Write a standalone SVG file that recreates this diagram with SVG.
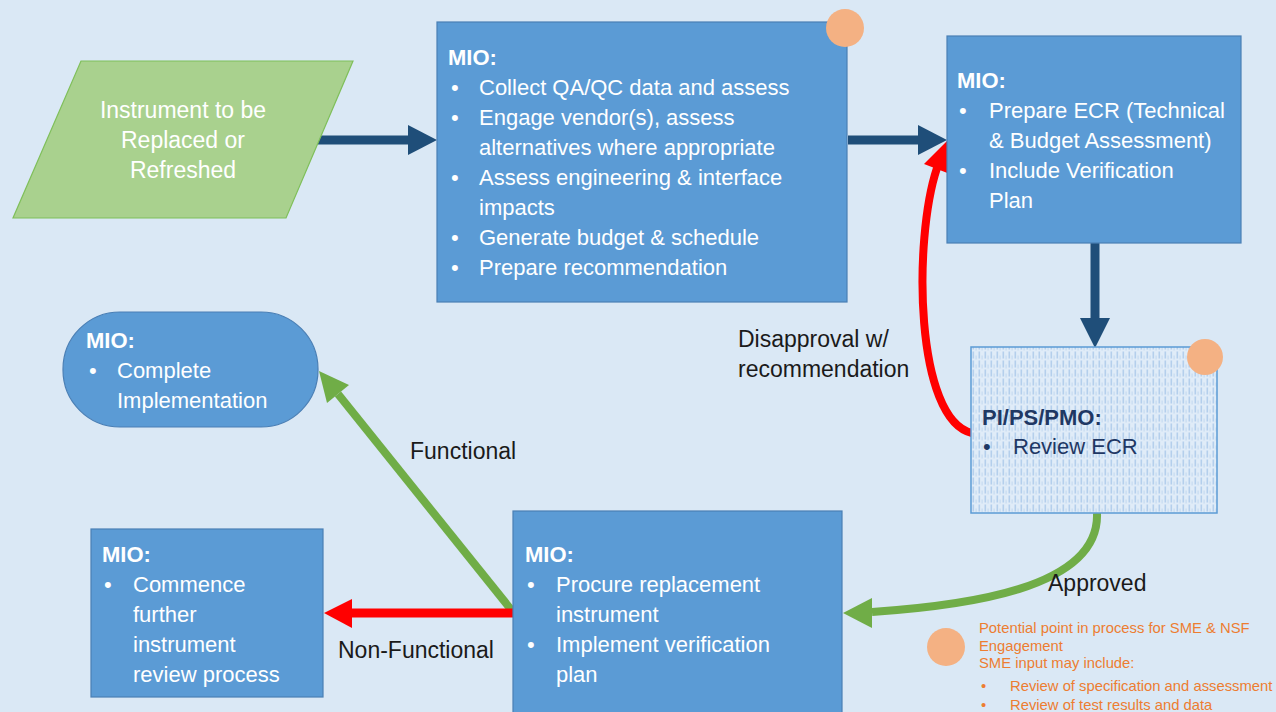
<svg xmlns="http://www.w3.org/2000/svg" width="1276" height="712" viewBox="0 0 1276 712">
  <style>
    .box { fill: #5B9BD5; stroke: #4A7FB5; stroke-width: 1.2; }
    .t { font-family: "Liberation Sans", Arial, sans-serif; font-size: 22px; fill: #FFFFFF; }
    .in { font-size: 23px; }
    .b { font-weight: bold; }
    .lbl { font-family: "Liberation Sans", Arial, sans-serif; font-size: 23px; fill: #1A1A1A; }
    .navy { fill: #1F3864; }
    .note { font-family: "Liberation Sans", Arial, sans-serif; font-size: 14.8px; fill: #ED7D31; }
    .dot { fill: #F4B183; }
  </style>
  <defs>
    <pattern id="weave" width="6" height="9" patternUnits="userSpaceOnUse">
      <rect width="6" height="9" fill="#E0ECF8"/>
      <rect x="0.5" y="0.5" width="1.6" height="7" fill="#B4CFEC"/>
      <rect x="3.5" y="4.5" width="1.2" height="4" fill="#C6DBF1"/>
    </pattern>
  </defs>

  <rect width="1276" height="712" fill="#DAE8F5"/>

  <!-- connectors -->
  <g id="connectors">
    <!-- input to assessment -->
    <line x1="318" y1="140" x2="410" y2="140" stroke="#1F4E79" stroke-width="9"/>
    <polygon points="437,140 408,125 408,155" fill="#1F4E79"/>
    <!-- assessment to ECR -->
    <line x1="848" y1="140" x2="920" y2="140" stroke="#1F4E79" stroke-width="9"/>
    <polygon points="947,140 918,125 918,155" fill="#1F4E79"/>
    <!-- ECR to review -->
    <line x1="1095" y1="243" x2="1095" y2="320" stroke="#1F4E79" stroke-width="9"/>
    <polygon points="1095,348 1080,318 1110,318" fill="#1F4E79"/>
    <!-- disapproval loop -->
    <path d="M 972 433 C 915 420, 913 240, 937 168" fill="none" stroke="#FF0000" stroke-width="8"/>
    <polygon points="947,141 950,174 924,164" fill="#FF0000"/>
    <!-- approved -->
    <path d="M 1097 513 C 1100 590, 960 606, 872 612" fill="none" stroke="#70AD47" stroke-width="8"/>
    <polygon points="843,613 872,598 872,628" fill="#70AD47"/>
    <!-- functional -->
    <line x1="513" y1="612" x2="338" y2="394" stroke="#70AD47" stroke-width="8"/>
    <polygon points="319,371 349,385 327,403" fill="#70AD47"/>
    <!-- non-functional -->
    <line x1="513" y1="613" x2="350" y2="613" stroke="#FF0000" stroke-width="9"/>
    <polygon points="324,613 352,599 352,628" fill="#FF0000"/>
  </g>

  <!-- connector labels -->
  <g id="labels">
    <text class="lbl" x="738" y="347">Disapproval w/</text>
    <text class="lbl" x="738" y="377">recommendation</text>
    <text class="lbl" x="410" y="459">Functional</text>
    <text class="lbl" x="338" y="658">Non-Functional</text>
    <text class="lbl" x="1048" y="591">Approved</text>
  </g>

  <g id="node-input">
    <polygon points="81,61 353,61 286,218 13,218" fill="#A9D18E" stroke="#7FBF5A" stroke-width="1.2"/>
    <text class="t in" text-anchor="middle" x="183" y="118">Instrument to be</text>
    <text class="t in" text-anchor="middle" x="183" y="148">Replaced or</text>
    <text class="t in" text-anchor="middle" x="183" y="178">Refreshed</text>
  </g>

  <g id="node-assess">
    <rect class="box" x="437" y="22" width="410" height="280"/>
    <circle class="dot" cx="845" cy="28" r="19"/>
    <text class="t b" x="448" y="65">MIO:</text>
    <text class="t" x="451" y="95">•</text><text class="t" x="479" y="95">Collect QA/QC data and assess</text>
    <text class="t" x="451" y="125">•</text><text class="t" x="479" y="125">Engage vendor(s), assess</text>
    <text class="t" x="479" y="155">alternatives where appropriate</text>
    <text class="t" x="451" y="185">•</text><text class="t" x="479" y="185">Assess engineering &amp; interface</text>
    <text class="t" x="479" y="215">impacts</text>
    <text class="t" x="451" y="245">•</text><text class="t" x="479" y="245">Generate budget &amp; schedule</text>
    <text class="t" x="451" y="275">•</text><text class="t" x="479" y="275">Prepare recommendation</text>
  </g>

  <g id="node-ecr">
    <rect class="box" x="947" y="36" width="294" height="207"/>
    <text class="t b" x="957" y="88">MIO:</text>
    <text class="t" x="959" y="118">•</text><text class="t" x="989" y="118">Prepare ECR (Technical</text>
    <text class="t" x="989" y="148">&amp; Budget Assessment)</text>
    <text class="t" x="959" y="178">•</text><text class="t" x="989" y="178">Include Verification</text>
    <text class="t" x="989" y="208">Plan</text>
  </g>

  <g id="node-review">
    <rect x="971" y="347" width="246" height="166" fill="url(#weave)" stroke="#5B9BD5" stroke-width="1.5"/>
    <circle class="dot" cx="1205" cy="357" r="18"/>
    <text class="t b navy" x="982" y="425">PI/PS/PMO:</text>
    <text class="t navy" x="983" y="454">•</text><text class="t navy" x="1013" y="454">Review ECR</text>
  </g>

  <g id="node-complete">
    <rect class="box" x="63" y="312" width="255" height="115" rx="57" ry="57"/>
    <text class="t b" x="86" y="348">MIO:</text>
    <text class="t" x="89" y="378">•</text><text class="t" x="117" y="378">Complete</text>
    <text class="t" x="117" y="408">Implementation</text>
  </g>

  <g id="node-further">
    <rect class="box" x="91" y="529" width="232" height="168"/>
    <text class="t b" x="102" y="562">MIO:</text>
    <text class="t" x="104" y="592">•</text><text class="t" x="133" y="592">Commence</text>
    <text class="t" x="133" y="622">further</text>
    <text class="t" x="133" y="652">instrument</text>
    <text class="t" x="133" y="682">review process</text>
  </g>

  <g id="node-procure">
    <rect class="box" x="513" y="511" width="329" height="215"/>
    <text class="t b" x="525" y="562">MIO:</text>
    <text class="t" x="527" y="592">•</text><text class="t" x="556" y="592">Procure replacement</text>
    <text class="t" x="556" y="622">instrument</text>
    <text class="t" x="527" y="652">•</text><text class="t" x="556" y="652">Implement verification</text>
    <text class="t" x="556" y="682">plan</text>
  </g>

  <g id="legend">
    <circle class="dot" cx="946" cy="647" r="19"/>
    <text class="note" x="979" y="633">Potential point in process for SME &amp; NSF</text>
    <text class="note" x="979" y="651">Engagement</text>
    <text class="note" x="979" y="668">SME input may include:</text>
    <text class="note" x="981" y="691">•</text><text class="note" x="1010" y="691">Review of specification and assessment</text>
    <text class="note" x="981" y="710">•</text><text class="note" x="1010" y="710">Review of test results and data</text>
  </g>
</svg>
